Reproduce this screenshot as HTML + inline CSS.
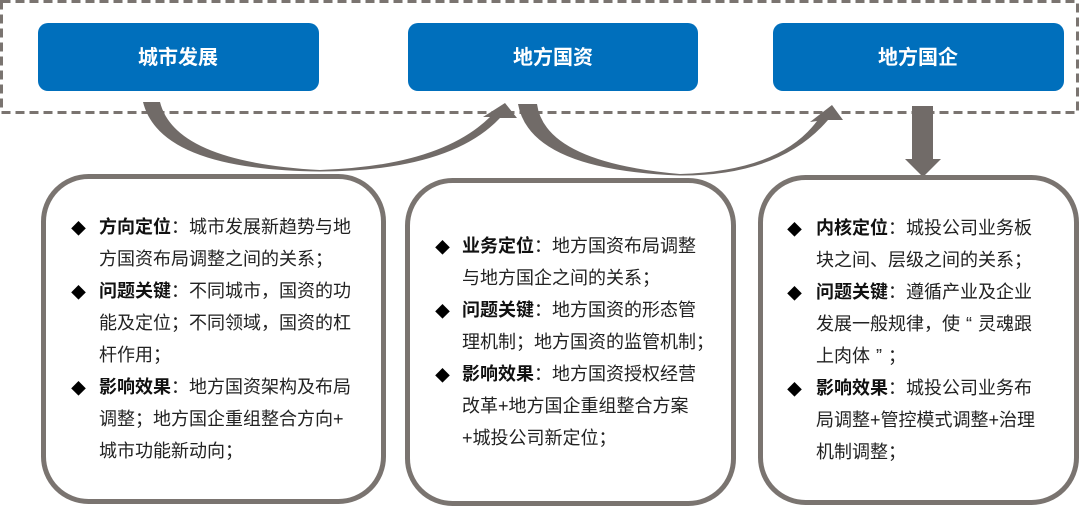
<!DOCTYPE html>
<html><head><meta charset="utf-8"><style>
html,body{margin:0;padding:0;background:#fff;}
body{width:1080px;height:507px;position:relative;overflow:hidden;font-family:"Liberation Sans","Noto Sans CJK SC",sans-serif;}
.t{position:absolute;font-size:18px;color:#222;white-space:nowrap;line-height:32px;font-feature-settings:"fwid";}
.t b{font-weight:bold;color:#111;}
.c{display:inline-block;width:18px;text-align:center;}
.d{position:absolute;font-size:15px;color:#000;}
</style></head><body>
<svg width="1080" height="507" style="position:absolute;left:0;top:0">
<rect x="1.5" y="1.5" width="1076" height="111" fill="none" stroke="#7a7470" stroke-width="3" stroke-dasharray="9,5"/>
<rect x="38" y="23" width="281" height="68" rx="10" fill="#006fbc"/>
<rect x="408" y="23" width="290" height="68" rx="10" fill="#006fbc"/>
<rect x="773" y="23" width="291" height="68" rx="10" fill="#006fbc"/>
<text x="178" y="64" text-anchor="middle" fill="#fff" font-size="20" font-weight="bold" font-family="Liberation Sans, Noto Sans CJK SC, sans-serif">城市发展</text>
<text x="553" y="64" text-anchor="middle" fill="#fff" font-size="20" font-weight="bold" font-family="Liberation Sans, Noto Sans CJK SC, sans-serif">地方国资</text>
<text x="918" y="64" text-anchor="middle" fill="#fff" font-size="20" font-weight="bold" font-family="Liberation Sans, Noto Sans CJK SC, sans-serif">地方国企</text>
<path d="M143,102 L160,102 Q175,162 320,170 Q440,166 490,117 L483,117 L505,103 L517,118 L500,118 Q450,171 320,171.5 Q160,170 143,102 Z" fill="#716b68"/>
<path d="M518,104 L537,104 Q545,162 680,174 Q780,171 817,121 L810,122 L832,105 L843,120 L828,120 Q780,176 680,175.5 Q530,170 518,104 Z" fill="#716b68"/>
<rect x="912" y="106" width="21" height="54" fill="#716b68"/>
<polygon points="905,159 941,159 923,177" fill="#716b68"/>
<rect x="43.5" y="176.5" width="340" height="325" rx="45" fill="#fff" stroke="#7a7470" stroke-width="5"/>
<rect x="407.5" y="180.5" width="326" height="323" rx="45" fill="#fff" stroke="#7a7470" stroke-width="5"/>
<rect x="760.5" y="177.5" width="316" height="325" rx="45" fill="#fff" stroke="#7a7470" stroke-width="5"/>
</svg>

<div class="d" style="left:71px;top:218px">◆</div>
<div class="d" style="left:71px;top:282px">◆</div>
<div class="d" style="left:71px;top:378px">◆</div>
<div class="t" style="left:99px;top:211px"><b>方向定位</b><span class="c">：</span>城市发展新趋势与地<br>方国资布局调整之间的关系<span class="c">；</span><br><b>问题关键</b><span class="c">：</span>不同城市<span class="c">，</span>国资的功<br>能及定位<span class="c">；</span>不同领域<span class="c">，</span>国资的杠<br>杆作用<span class="c">；</span><br><b>影响效果</b><span class="c">：</span>地方国资架构及布局<br>调整<span class="c">；</span>地方国企重组整合方向+<br>城市功能新动向<span class="c">；</span></div>

<div class="d" style="left:435px;top:237px">◆</div>
<div class="d" style="left:435px;top:301px">◆</div>
<div class="d" style="left:435px;top:365px">◆</div>
<div class="t" style="left:462px;top:230px"><b>业务定位</b><span class="c">：</span>地方国资布局调整<br>与地方国企之间的关系<span class="c">；</span><br><b>问题关键</b><span class="c">：</span>地方国资的形态管<br>理机制<span class="c">；</span>地方国资的监管机制<span class="c">；</span><br><b>影响效果</b><span class="c">：</span>地方国资授权经营<br>改革+地方国企重组整合方案<br>+城投公司新定位<span class="c">；</span></div>

<div class="d" style="left:787px;top:219px">◆</div>
<div class="d" style="left:787px;top:283px">◆</div>
<div class="d" style="left:787px;top:379px">◆</div>
<div class="t" style="left:816px;top:212px"><b>内核定位</b><span class="c">：</span>城投公司业务板<br>块之间、层级之间的关系<span class="c">；</span><br><b>问题关键</b><span class="c">：</span>遵循产业及企业<br>发展一般规律<span class="c">，</span>使<span class="c">“</span>灵魂跟<br>上肉体<span class="c">”</span><span class="c">；</span><br><b>影响效果</b><span class="c">：</span>城投公司业务布<br>局调整+管控模式调整+治理<br>机制调整<span class="c">；</span></div>
</body></html>
